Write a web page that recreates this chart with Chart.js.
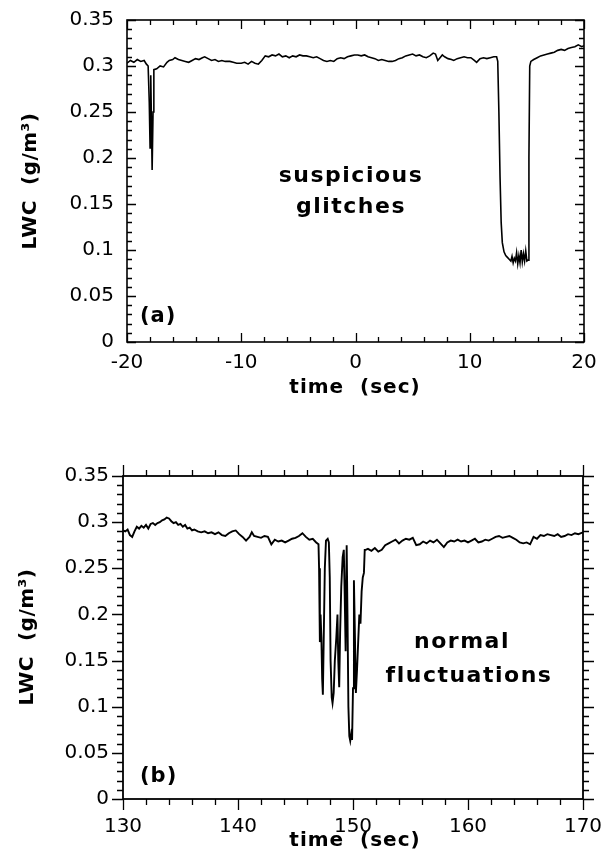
<!DOCTYPE html>
<html>
<head>
<meta charset="utf-8">
<script src="https://cdn.jsdelivr.net/npm/chart.js@4.4.1/dist/chart.umd.min.js"></script>
<style>
  html, body { margin: 0; padding: 0; background: #fff; }
  canvas { position: absolute; left: 0; }
  #chartA { top: 0; }
  #chartB { top: 430px; }
</style>
</head>
<body>
<canvas id="chartA" width="603" height="430"></canvas>
<canvas id="chartB" width="603" height="423"></canvas>
<script>
// panel (a): LWC record around t = 0
const timeA = [
  -20.0, -19.7, -19.4, -19.1, -18.8, -18.5, -18.3, -18.15, -18.05, -17.98, -17.92, -17.86, -17.8, -17.72, -17.65,
  -17.4, -17.1, -16.8, -16.5, -16.3, -16.0, -15.8, -15.5, -15.2, -14.9, -14.6, -14.3, -14.0, -13.7, -13.4,
  -13.2, -12.9, -12.6, -12.3, -12.0, -11.7, -11.4, -11.0, -10.7, -10.4, -10.0, -9.7, -9.4, -9.1, -8.8,
  -8.5, -8.2, -7.9, -7.6, -7.3, -7.0, -6.7, -6.4, -6.1, -5.8, -5.5, -5.2, -4.9, -4.6, -4.3,
  -4.0, -3.7, -3.4, -3.1, -2.8, -2.5, -2.2, -1.9, -1.6, -1.3, -1.0, -0.7, -0.4, -0.1, 0.2,
  0.5, 0.8, 1.1, 1.4, 1.7, 2.0, 2.3, 2.6, 2.9, 3.2, 3.5, 3.8, 4.1, 4.4, 4.7,
  5.0, 5.3, 5.6, 5.9, 6.2, 6.5, 6.8, 7.0, 7.2, 7.4, 7.6, 7.8, 8.1, 8.4, 8.6,
  8.9, 9.2, 9.5, 9.8, 10.1, 10.4, 10.6, 10.9, 11.2, 11.5, 11.8, 12.1, 12.35, 12.45, 12.55,
  12.65, 12.75, 12.85, 13.0, 13.15, 13.3, 13.45, 13.6, 13.7, 13.8, 13.9, 14.0, 14.1, 14.2, 14.3,
  14.4, 14.5, 14.6, 14.7, 14.8, 14.9, 15.0, 15.1, 15.18, 15.25, 15.35, 15.6, 15.9, 16.2, 16.5,
  16.8, 17.1, 17.4, 17.7, 18.0, 18.3, 18.6, 18.9, 19.2, 19.5, 19.8, 20.0
];
const lwcA = [
  0.303, 0.306, 0.304, 0.307, 0.305, 0.306, 0.302, 0.300, 0.260, 0.211, 0.290, 0.240, 0.187, 0.250, 0.296,
  0.297, 0.300, 0.299, 0.304, 0.306, 0.307, 0.309, 0.307, 0.306, 0.305, 0.304, 0.306, 0.308, 0.307, 0.309,
  0.310, 0.308, 0.306, 0.307, 0.305, 0.306, 0.305, 0.305, 0.304, 0.303, 0.303, 0.304, 0.302, 0.305, 0.303,
  0.302, 0.306, 0.311, 0.310, 0.312, 0.311, 0.313, 0.310, 0.311, 0.309, 0.311, 0.310, 0.312, 0.311, 0.311,
  0.310, 0.309, 0.310, 0.308, 0.306, 0.305, 0.306, 0.305, 0.308, 0.309, 0.308, 0.310, 0.311, 0.312, 0.312,
  0.311, 0.312, 0.310, 0.309, 0.308, 0.306, 0.307, 0.306, 0.305, 0.305, 0.306, 0.308, 0.309, 0.311, 0.312,
  0.313, 0.311, 0.312, 0.310, 0.309, 0.311, 0.314, 0.313, 0.306, 0.309, 0.312, 0.310, 0.308, 0.307, 0.306,
  0.308, 0.309, 0.310, 0.309, 0.309, 0.306, 0.304, 0.308, 0.309, 0.308, 0.309, 0.310, 0.310, 0.305, 0.250,
  0.180, 0.130, 0.108, 0.098, 0.094, 0.092, 0.090, 0.088, 0.093, 0.086, 0.091, 0.088, 0.097, 0.085, 0.094,
  0.086, 0.100, 0.087, 0.096, 0.088, 0.099, 0.088, 0.089, 0.200, 0.300, 0.305, 0.307, 0.309, 0.311, 0.312,
  0.313, 0.314, 0.315, 0.317, 0.318, 0.317, 0.319, 0.320, 0.321, 0.323, 0.321, 0.322
];
const xTicksA = [-20, -10, 0, 10, 20];

// panel (b): LWC record 130-170 s
const timeB = [
  130.0, 130.2, 130.4, 130.6, 130.8, 131.0, 131.2, 131.4, 131.6, 131.8, 132.0, 132.2, 132.4, 132.6, 132.8,
  133.0, 133.2, 133.4, 133.6, 133.8, 134.0, 134.2, 134.4, 134.6, 134.8, 135.0, 135.2, 135.4, 135.6, 135.8,
  136.0, 136.2, 136.5, 136.8, 137.1, 137.4, 137.7, 138.0, 138.3, 138.6, 138.9, 139.2, 139.5, 139.8, 140.1,
  140.4, 140.7, 141.0, 141.2, 141.4, 141.7, 142.0, 142.3, 142.6, 142.9, 143.2, 143.5, 143.8, 144.1, 144.4,
  144.7, 145.0, 145.3, 145.6, 145.9, 146.2, 146.5, 146.8, 147.0, 147.05, 147.12, 147.18, 147.25, 147.32, 147.38,
  147.45, 147.55, 147.65, 147.8, 147.9, 147.98, 148.05, 148.15, 148.22, 148.32, 148.42, 148.55, 148.65, 148.72, 148.8,
  148.88, 148.98, 149.1, 149.2, 149.28, 149.36, 149.45, 149.52, 149.6, 149.68, 149.76, 149.84, 149.92, 150.0, 150.08,
  150.15, 150.25, 150.35, 150.45, 150.55, 150.65, 150.75, 150.85, 150.95, 151.02, 151.1, 151.3, 151.6, 151.9, 152.2,
  152.5, 152.8, 153.1, 153.4, 153.7, 154.0, 154.3, 154.6, 154.9, 155.2, 155.5, 155.8, 156.1, 156.4, 156.7,
  157.0, 157.3, 157.6, 157.9, 158.2, 158.5, 158.8, 159.1, 159.4, 159.7, 160.0, 160.3, 160.6, 160.9, 161.2,
  161.5, 161.8, 162.1, 162.4, 162.7, 163.0, 163.3, 163.6, 163.9, 164.2, 164.5, 164.8, 165.1, 165.4, 165.7,
  166.0, 166.3, 166.6, 166.9, 167.2, 167.5, 167.8, 168.1, 168.4, 168.7, 169.0, 169.3, 169.6, 170.0
];
const lwcB = [
  0.291, 0.290, 0.292, 0.286, 0.284, 0.290, 0.295, 0.293, 0.296, 0.294, 0.297, 0.293, 0.298, 0.299, 0.297,
  0.299, 0.300, 0.302, 0.303, 0.305, 0.304, 0.301, 0.299, 0.300, 0.297, 0.298, 0.295, 0.297, 0.293, 0.294,
  0.291, 0.292, 0.290, 0.289, 0.290, 0.288, 0.289, 0.287, 0.289, 0.286, 0.285, 0.288, 0.290, 0.291, 0.287,
  0.284, 0.280, 0.284, 0.289, 0.285, 0.284, 0.283, 0.285, 0.284, 0.276, 0.281, 0.279, 0.280, 0.278, 0.280,
  0.282, 0.283, 0.285, 0.288, 0.284, 0.281, 0.282, 0.278, 0.276, 0.250, 0.170, 0.200, 0.175, 0.130, 0.113,
  0.170, 0.250, 0.280, 0.282, 0.278, 0.240, 0.150, 0.110, 0.104, 0.115, 0.150, 0.175, 0.200, 0.150, 0.121,
  0.180, 0.230, 0.262, 0.270, 0.220, 0.160, 0.275, 0.200, 0.100, 0.068, 0.063, 0.070, 0.064, 0.120, 0.237,
  0.190, 0.115, 0.140, 0.170, 0.200, 0.190, 0.225, 0.240, 0.245, 0.270, 0.270, 0.271, 0.269, 0.272, 0.268,
  0.270, 0.275, 0.277, 0.279, 0.281, 0.277, 0.280, 0.282, 0.281, 0.283, 0.275, 0.276, 0.279, 0.277, 0.280,
  0.278, 0.281, 0.277, 0.273, 0.278, 0.280, 0.279, 0.281, 0.279, 0.280, 0.278, 0.280, 0.282, 0.278, 0.279,
  0.281, 0.280, 0.282, 0.284, 0.285, 0.283, 0.284, 0.285, 0.283, 0.281, 0.278, 0.277, 0.278, 0.276, 0.284,
  0.282, 0.286, 0.285, 0.287, 0.286, 0.285, 0.287, 0.284, 0.285, 0.287, 0.286, 0.288, 0.287, 0.289
];
const xTicksB = [130, 140, 150, 160, 170];

const yTicks = [0, 0.05, 0.1, 0.15, 0.2, 0.25, 0.3, 0.35];

const FONT = "'DejaVu Sans', sans-serif";

// box round the plot area with major/minor tick marks on all four sides
const frameTicks = {
  id: 'frameTicks',
  afterDraw(chart, args, opts) {
    const { ctx, chartArea: a, scales: { x, y } } = chart;
    const dir = opts.inward ? 1 : -1;
    const isMajor = (v, step) => Math.abs(v / step - Math.round(v / step)) < 1e-6;
    ctx.save();
    ctx.strokeStyle = '#000';
    ctx.lineWidth = opts.frameWidth;
    ctx.strokeRect(a.left, a.top, a.right - a.left, a.bottom - a.top);
    ctx.lineWidth = 1.3;
    ctx.beginPath();
    const nx = Math.round((x.max - x.min) / opts.xMinor);
    for (let i = 0; i <= nx; i++) {
      const v = x.min + i * opts.xMinor;
      const len = isMajor(v, opts.xMajor) ? opts.major : opts.minor;
      const px = Math.round(x.getPixelForValue(v)) + 0.5;
      ctx.moveTo(px, a.bottom); ctx.lineTo(px, a.bottom - dir * len);
      ctx.moveTo(px, a.top); ctx.lineTo(px, a.top + dir * len);
    }
    const ny = Math.round((y.max - y.min) / opts.yMinor);
    for (let i = 0; i <= ny; i++) {
      const v = y.min + i * opts.yMinor;
      const len = isMajor(v, opts.yMajor) ? opts.major : opts.minor;
      const py = Math.round(y.getPixelForValue(v)) + 0.5;
      ctx.moveTo(a.left, py); ctx.lineTo(a.left + dir * len, py);
      ctx.moveTo(a.right, py); ctx.lineTo(a.right - dir * len, py);
    }
    ctx.stroke();
    ctx.restore();
  }
};

// axis titles, panel letters and notes
const textLabels = {
  id: 'textLabels',
  afterDraw(chart, args, opts) {
    const ctx = chart.ctx;
    ctx.save();
    ctx.fillStyle = '#000';
    for (const t of opts.items) {
      ctx.save();
      ctx.font = t.font;
      ctx.letterSpacing = (t.spacing || 0) + 'px';
      ctx.textAlign = t.align || 'center';
      ctx.textBaseline = 'alphabetic';
      ctx.translate(t.x, t.y);
      if (t.rotate) ctx.rotate(t.rotate);
      ctx.fillText(t.text, 0, 0);
      ctx.restore();
    }
    ctx.restore();
  }
};

function makeChart(id, times, values, xTicks, cfg) {
  const points = times.map((t, i) => ({ x: t, y: values[i] }));
  return new Chart(document.getElementById(id), {
    type: 'line',
    data: {
      datasets: [{
        data: points,
        borderColor: '#000',
        borderWidth: cfg.lineWidth,
        pointRadius: 0,
        tension: 0,
        fill: false
      }]
    },
    options: {
      responsive: false,
      animation: false,
      events: [],
      layout: { padding: cfg.padding },
      plugins: {
        legend: { display: false },
        tooltip: { enabled: false },
        frameTicks: cfg.ticks,
        textLabels: { items: cfg.labels }
      },
      scales: {
        x: {
          type: 'linear',
          min: xTicks[0],
          max: xTicks[xTicks.length - 1],
          afterBuildTicks: s => { s.ticks = xTicks.map(v => ({ value: v })); },
          // end labels may hang over the frame; keep the plot width fixed
          afterFit: s => { s.height = cfg.xHeight; s.paddingLeft = 0; s.paddingRight = 0; },
          grid: { display: false, drawTicks: false },
          border: { display: false },
          ticks: { color: '#000', padding: cfg.xPad, maxRotation: 0, autoSkip: false,
                   font: { family: FONT, size: 20 } }
        },
        y: {
          min: 0,
          max: 0.35,
          afterBuildTicks: s => { s.ticks = yTicks.map(v => ({ value: v })); },
          afterFit: s => { s.width = cfg.yWidth; s.paddingTop = 0; s.paddingBottom = 0; },
          grid: { display: false, drawTicks: false },
          border: { display: false },
          ticks: { color: '#000', padding: cfg.yPad, autoSkip: false,
                   font: { family: FONT, size: 20 },
                   callback: v => String(+v.toFixed(2)) }
        }
      }
    },
    plugins: [frameTicks, textLabels]
  });
}

const titleFont = "bold 20px " + FONT;
const noteFont = "bold 22px " + FONT;

makeChart('chartA', timeA, lwcA, xTicksA, {
  lineWidth: 1.6,
  padding: { top: 20, right: 19, left: 0, bottom: 0 },
  xHeight: 88, yWidth: 127, xPad: 9, yPad: 13,
  ticks: { inward: true, frameWidth: 1.6, xMinor: 2, xMajor: 10, yMinor: 0.01, yMajor: 0.05, major: 9, minor: 5 },
  labels: [
    { text: 'LWC  (g/m³)', x: 36, y: 181, rotate: -Math.PI / 2, font: titleFont, spacing: 0.5 },
    { text: 'time  (sec)', x: 355, y: 393, font: titleFont, spacing: 1 },
    { text: '(a)', x: 140, y: 322, align: 'left', font: "bold 21px " + FONT, spacing: 1 },
    { text: 'suspicious', x: 351, y: 182, font: noteFont, spacing: 1.5 },
    { text: 'glitches', x: 351, y: 213, font: noteFont, spacing: 1.5 }
  ]
});

makeChart('chartB', timeB, lwcB, xTicksB, {
  lineWidth: 1.9,
  padding: { top: 46, right: 20, left: 0, bottom: 0 },
  xHeight: 54, yWidth: 123, xPad: 16, yPad: 14,
  ticks: { inward: false, frameWidth: 1.8, xMinor: 2, xMajor: 10, yMinor: 0.01, yMajor: 0.05, major: 11, minor: 6 },
  labels: [
    { text: 'LWC  (g/m³)', x: 33, y: 207, rotate: -Math.PI / 2, font: titleFont, spacing: 0.5 },
    { text: 'time  (sec)', x: 355, y: 416, font: titleFont, spacing: 1 },
    { text: '(b)', x: 140, y: 352, align: 'left', font: "bold 21px " + FONT, spacing: 1 },
    { text: 'normal', x: 462, y: 218, font: noteFont, spacing: 1.5 },
    { text: 'fluctuations', x: 469, y: 252, font: noteFont, spacing: 1.5 }
  ]
});
</script>
</body>
</html>
